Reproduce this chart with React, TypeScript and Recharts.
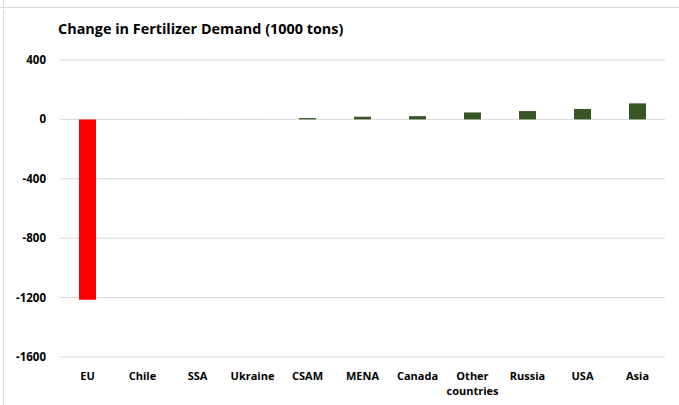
import React from 'react';
import { BarChart, Bar, XAxis, YAxis, CartesianGrid, Cell } from 'recharts';

// Change in fertilizer demand by region (1000 tons)
const regions = ['EU', 'Chile', 'SSA', 'Ukraine', 'CSAM', 'MENA', 'Canada', 'Other countries', 'Russia', 'USA', 'Asia'];
const demandChange = [-1215, 0, 3, 3, 9, 18, 22, 47, 56, 70, 108];
const barColors = ['#ff0000', '#375623', '#d0d0d0', '#d0d0d0', '#375623', '#375623', '#375623', '#375623', '#375623', '#375623', '#375623'];
const yTicks = [-1600, -1200, -800, -400, 0, 400];

const FONT = '"Open Sans", Calibri, sans-serif';

const chartData = regions.map((region, i) => ({ region, value: demandChange[i] }));

function CategoryTick(props: any) {
  const { x, y, payload } = props;
  const words: string[] = payload.value.split(' ');
  return (
    <text x={x} y={y} textAnchor="middle" fill="#000" fontFamily={FONT} fontSize={11} fontWeight={700}>
      {words.map((w, i) => (
        <tspan key={i} x={x} dy={i === 0 ? 15 : 15}>
          {w}
        </tspan>
      ))}
    </text>
  );
}

export default function App() {
  return (
    <div style={{ position: 'absolute', left: 0, top: 0, width: 679, height: 405, background: '#fff', overflow: 'hidden' }}>
      {/* frame lines from the screenshot */}
      <div style={{ position: 'absolute', left: 0, top: 7, width: 679, height: 1, background: '#d9d9d9' }} />
      <div style={{ position: 'absolute', left: 3, top: 0, width: 1, height: 7, background: '#d9d9d9' }} />
      <div style={{ position: 'absolute', left: 3, top: 10, width: 1, height: 395, background: '#d9d9d9' }} />
      <div
        style={{
          position: 'absolute',
          left: 58,
          top: 19,
          fontFamily: FONT,
          fontSize: 14.4,
          fontWeight: 700,
          color: '#000',
          whiteSpace: 'nowrap',
        }}
      >
        Change in Fertilizer Demand (1000 tons)
      </div>
      <BarChart
        width={679}
        height={405}
        data={chartData}
        margin={{ top: 60, right: 14, bottom: 8, left: 0 }}
        barSize={17}
        style={{ position: 'absolute', left: 0, top: 0 }}
      >
        <CartesianGrid vertical={false} stroke="#d9d9d9" />
        <XAxis
          dataKey="region"
          interval={0}
          axisLine={false}
          tickLine={false}
          height={40}
          tick={<CategoryTick />}
        />
        <YAxis
          domain={[-1600, 400]}
          ticks={yTicks}
          width={60}
          axisLine={false}
          tickLine={false}
          tickMargin={8}
          tick={{ fill: '#000', fontFamily: FONT, fontSize: 11.5, fontWeight: 700 }}
        />
        <Bar dataKey="value" isAnimationActive={false}>
          {chartData.map((d, i) => (
            <Cell key={d.region} fill={barColors[i]} />
          ))}
        </Bar>
      </BarChart>
    </div>
  );
}
